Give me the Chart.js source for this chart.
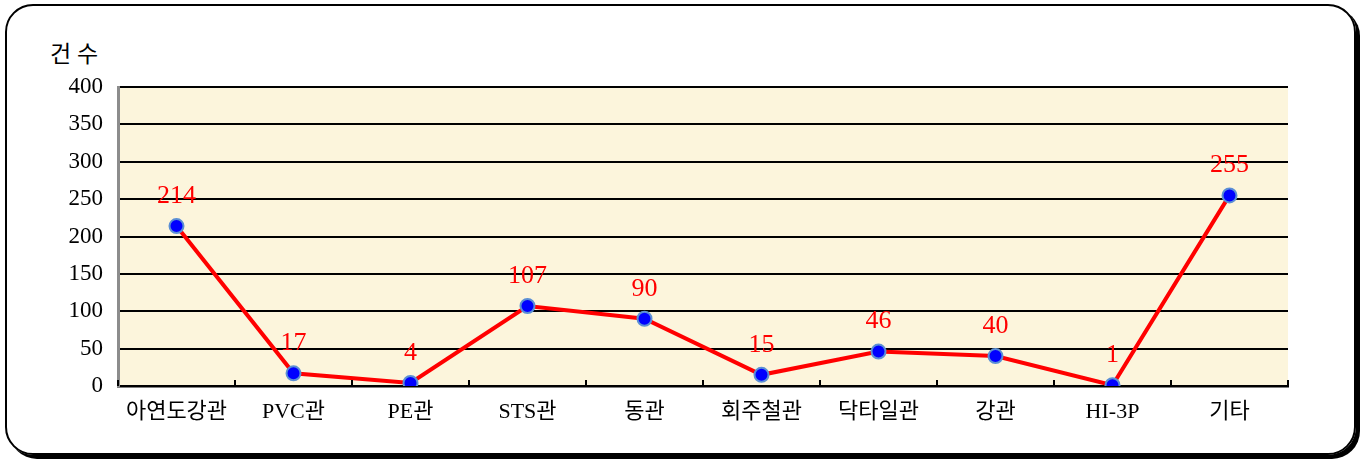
<!DOCTYPE html>
<html lang="ko">
<head>
<meta charset="utf-8">
<title>건수</title>
<script src="https://cdn.jsdelivr.net/npm/chart.js@4"></script>
<style>
  html, body { margin: 0; padding: 0; background: #fff; }
  body { width: 1366px; height: 461px; position: relative; overflow: hidden; }
  .frame { position: absolute; left: 5px; top: 4px; width: 1347px; height: 447px;
           border: 2px solid #000; border-radius: 28px; box-shadow: 4px 4px 0 #000; }
  .unit { position: absolute; left: 50px; top: 35px; font: 23px "Liberation Serif", "Noto Sans CJK KR"; color: #000; }
  #wrap { position: absolute; left: 0; top: 0; width: 1366px; height: 461px; }
</style>
</head>
<body>
<div class="frame"></div>
<div class="unit">건 수</div>
<div id="wrap"><canvas id="chart"></canvas></div>
<script>
var categories = ['아연도강관', 'PVC관', 'PE관', 'STS관', '동관', '회주철관', '닥타일관', '강관', 'HI-3P', '기타'];
var counts = [214, 17, 4, 107, 90, 15, 46, 40, 1, 255];
var yTicks = [0, 50, 100, 150, 200, 250, 300, 350, 400];

var serif = '"Liberation Serif", "Noto Sans CJK KR"';

// cream plot background, boundary ticks on the x axis, red value labels
var extras = {
  id: 'extras',
  beforeDraw: function(chart) {
    var a = chart.chartArea, c = chart.ctx;
    c.save();
    c.fillStyle = '#fcf5dc';
    c.fillRect(a.left, a.top, a.right - a.left, a.bottom - a.top);
    c.restore();
  },
  afterDatasetsDraw: function(chart) {
    var a = chart.chartArea, c = chart.ctx;
    var n = categories.length, w = (a.right - a.left) / n;
    c.save();
    c.strokeStyle = '#000';
    c.lineWidth = 2;
    for (var i = 0; i <= n; i++) {
      var x = Math.round(a.left + i * w);
      c.beginPath();
      c.moveTo(x, a.bottom - 6);
      c.lineTo(x, a.bottom);
      c.stroke();
    }
    c.fillStyle = '#ff0000';
    c.font = '26px ' + serif;
    c.textAlign = 'center';
    c.textBaseline = 'middle';
    chart.getDatasetMeta(0).data.forEach(function(p, i) {
      c.fillText(String(counts[i]), p.x, p.y - 30);
    });
    c.restore();
  }
};

new Chart(document.getElementById('chart'), {
  type: 'line',
  data: {
    labels: categories,
    datasets: [{
      data: counts,
      borderColor: '#ff0000',
      borderWidth: 4,
      tension: 0,
      pointRadius: 7,
      pointBackgroundColor: '#0000ff',
      pointBorderColor: '#5b8fd5',
      pointBorderWidth: 2
    }]
  },
  options: {
    responsive: true,
    maintainAspectRatio: false,
    animation: false,
    layout: { padding: { left: 0, top: 87, right: 78, bottom: 0 } },
    plugins: { legend: { display: false }, tooltip: { enabled: false } },
    scales: {
      x: {
        offset: true,
        afterFit: function(s) { s.height = 75; },
        grid: { display: false, drawTicks: false },
        border: { display: true, color: '#000', width: 2.5 },
        ticks: { color: '#000', padding: 13, maxRotation: 0, font: { family: serif, size: 22 } }
      },
      y: {
        min: 0,
        max: 400,
        afterFit: function(s) { s.width = 118; },
        afterBuildTicks: function(s) { s.ticks = yTicks.map(function(v) { return { value: v }; }); },
        grid: { color: '#000', lineWidth: 2, drawTicks: false },
        border: { display: true, color: '#8c8c8c', width: 3 },
        ticks: { color: '#000', padding: 15, font: { family: serif, size: 23 } }
      }
    }
  },
  plugins: [extras]
});
</script>
</body>
</html>
